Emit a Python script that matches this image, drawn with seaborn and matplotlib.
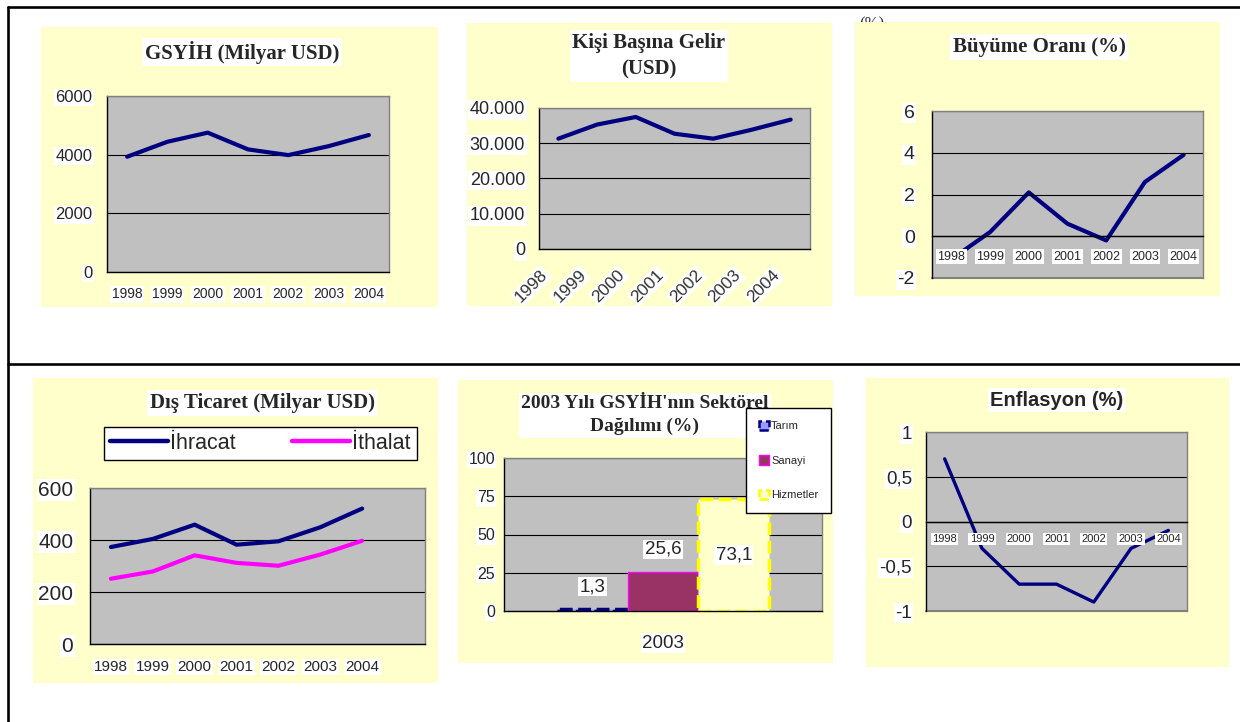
import numpy as np
import pandas as pd
import seaborn as sns
import matplotlib.pyplot as plt
from matplotlib.patches import Rectangle, Patch
from matplotlib.lines import Line2D
from matplotlib.ticker import FuncFormatter
from matplotlib.transforms import ScaledTranslation

# values
years = [1998, 1999, 2000, 2001, 2002, 2003, 2004]
year_labels = [str(y) for y in years]
gsyih = [3930, 4440, 4750, 4180, 3985, 4290, 4670]
kisi_basina = [31300, 35300, 37450, 32700, 31300, 33850, 36700]
buyume = [-1.1, 0.2, 2.1, 0.6, -0.2, 2.6, 3.9]
ihracat = [373, 404, 459, 382, 395, 449, 521]
ithalat = [251, 279, 341, 312, 301, 344, 397]
enflasyon = [0.7, -0.3, -0.7, -0.7, -0.9, -0.3, -0.1]
sektorler = ['Tarım', 'Sanayi', 'Hizmetler']
sektor_pay = [1.3, 25.6, 73.1]

NAVY = '#000080'
MAGENTA = '#FF00FF'
PANEL = '#FFFFCC'
PLOT_BG = '#C0C0C0'
W, H = 1240, 722

sns.set_style("white")
plt.rcParams['font.family'] = ['Liberation Sans', 'DejaVu Sans']
plt.rcParams['axes.unicode_minus'] = False

fig = plt.figure(figsize=(W / 100, H / 100), dpi=100)
fig.patch.set_facecolor('white')


def px_axes(x0, y0, x1, y1):
    return fig.add_axes([x0 / W, 1 - y1 / H, (x1 - x0) / W, (y1 - y0) / H])


def panel(x0, y0, x1, y1):
    fig.add_artist(Rectangle((x0 / W, 1 - y1 / H), (x1 - x0) / W, (y1 - y0) / H,
                             transform=fig.transFigure, facecolor=PANEL,
                             edgecolor='none', zorder=-1))


def title(text, x, y, size=15, serif=True):
    fam = ['Liberation Serif', 'DejaVu Serif'] if serif else ['Liberation Sans', 'DejaVu Sans']
    # below the axes so a legend can sit on top of it
    fig.text(x / W, 1 - y / H, text, ha='center', va='center', family=fam,
             weight='bold', fontsize=size, linespacing=1.4, zorder=-0.5,
             bbox=dict(facecolor='white', edgecolor='none', pad=2))


def frame(x0, y0, x1, y1):
    fig.add_artist(Line2D([x0 / W, x1 / W], [1 - y0 / H, 1 - y1 / H],
                          transform=fig.transFigure, color='black', lw=1.9, zorder=5))


def base_style(ax, ylim, step, fmt, ysize, ypad):
    ax.set_facecolor(PLOT_BG)
    for s in ['top', 'right']:
        ax.spines[s].set_color('#808080')
    for s in ['left', 'bottom']:
        ax.spines[s].set_color('black')
    for s in ax.spines.values():
        s.set_linewidth(1)
    ax.set_ylim(*ylim)
    ax.set_yticks(np.arange(ylim[0], ylim[1] + step / 2, step))
    ax.yaxis.set_major_formatter(FuncFormatter(fmt))
    ax.tick_params(axis='y', direction='out', length=3.5, width=1, color='black',
                   labelsize=ysize, pad=ypad)
    ax.yaxis.grid(True, color='black', lw=0.8)
    ax.xaxis.grid(False)
    ax.set_axisbelow(True)
    ax.set(xlabel='', ylabel='')


def year_axis(ax, n_slots, size, pad, rotation=0):
    ax.set_xlim(1997.5, 1997.5 + n_slots)
    ax.set_xticks(np.arange(1997.5, 1997.5 + n_slots + 0.1, 1))
    ax.set_xticklabels([])
    ax.set_xticks(years, minor=True)
    ax.set_xticklabels(year_labels, minor=True, rotation=rotation,
                       ha='right' if rotation else 'center')
    ax.tick_params(axis='x', which='major', direction='out', length=3.5, width=1,
                   color='black')
    ax.tick_params(axis='x', which='minor', length=0, pad=pad, labelsize=size)


def int_fmt(v, pos):
    return f"{int(round(v))}"


def dot_fmt(v, pos):
    return f"{int(round(v)):,}".replace(',', '.')


def comma_fmt(v, pos):
    return f"{v:g}".replace('.', ',')


# outer table frame
frame(8, 7, 1240, 7)
frame(8, 7, 8, 722)
frame(8, 364, 1240, 364)

# half-hidden text behind the growth panel
fig.text(872 / W, 1 - 24 / H, '(%)', ha='center', va='center', fontsize=12,
         family=['Liberation Serif'], color='#333333', zorder=-2)

# ---------- GSYİH ----------
panel(41, 27, 438, 307)
ax1 = px_axes(107, 96, 389, 272)
sns.lineplot(x=years, y=gsyih, ax=ax1, color=NAVY, lw=3)
base_style(ax1, (0, 6000), 2000, int_fmt, 12, 7)
year_axis(ax1, 7, 10, 11)
title('GSYİH (Milyar USD)', 242, 52)

# ---------- Kişi Başına Gelir ----------
panel(467, 23, 832, 306)
ax2 = px_axes(539, 108, 810, 249)
sns.lineplot(x=years, y=kisi_basina, ax=ax2, color=NAVY, lw=3)
base_style(ax2, (0, 40000), 10000, dot_fmt, 13, 6.5)
year_axis(ax2, 7, 12.5, 13, rotation=45)
shift = ScaledTranslation(-8 / 100, 0, fig.dpi_scale_trans)
for lab in ax2.get_xticklabels(minor=True):
    lab.set_transform(lab.get_transform() + shift)
    lab.set_color('#333333')
title('Kişi Başına Gelir\n(USD)', 649, 56)

# ---------- Büyüme Oranı ----------
panel(855, 22, 1220, 296)
ax3 = px_axes(932, 111, 1203, 278)
sns.lineplot(x=years, y=buyume, ax=ax3, color=NAVY, lw=3, zorder=0.3)
base_style(ax3, (-2, 6), 2, int_fmt, 14, 9)
year_axis(ax3, 7, 9, 10.5)
ax3.spines['bottom'].set_position(('data', 0))
ax3.plot([0, 1], [0, 0], transform=ax3.transAxes, color='#808080', lw=1.5, clip_on=False)
title('Büyüme Oranı (%)', 1039, 47)

# ---------- Dış Ticaret ----------
panel(33, 378, 438, 683)
ax4 = px_axes(90, 488, 425, 644)
ticaret = pd.DataFrame({
    'yil': years * 2,
    'deger': ihracat + ithalat,
    'seri': ['İhracat'] * len(years) + ['İthalat'] * len(years),
})
sns.lineplot(data=ticaret, x='yil', y='deger', hue='seri',
             palette={'İhracat': NAVY, 'İthalat': MAGENTA}, lw=3, ax=ax4)
base_style(ax4, (0, 600), 200, int_fmt, 15, 8.5)
year_axis(ax4, 8, 11, 11.5)
handles, labels = ax4.get_legend_handles_labels()
leg4 = ax4.legend(handles, labels, loc='center', bbox_to_anchor=(260.5 / W, 1 - 443.5 / H),
                  bbox_transform=fig.transFigure, ncol=2, fontsize=15.5, frameon=True,
                  fancybox=False, edgecolor='black', framealpha=1, handlelength=2.7,
                  handletextpad=0.1, columnspacing=2.6, borderpad=0.3)
leg4.get_frame().set_linewidth(1)
for ln in leg4.get_lines():
    ln.set_linewidth(3.2)
title('Dış Ticaret (Milyar USD)', 262, 403)

# ---------- Sektörel Dağılım ----------
panel(458, 380, 833, 663)
ax5 = px_axes(504, 458, 822, 611)
sektor_df = pd.DataFrame({'yil': ['2003'] * 3, 'sektor': sektorler, 'pay': sektor_pay})
fills = ['#9999FF', '#993366', '#FFFFCC']
edge_styles = [(NAVY, '--', 2.5), (MAGENTA, '-', 1), ('#FFFF00', '--', 2.5)]
sns.barplot(data=sektor_df, x='yil', y='pay', hue='sektor', hue_order=sektorler,
            palette=fills, width=0.667, saturation=1,
            errorbar=None, legend=False, ax=ax5)
base_style(ax5, (0, 100), 25, int_fmt, 11.5, 3)
ax5.set_xlim(-0.5, 0.5)
ax5.set_xticks([-0.5, 0.5])
ax5.set_xticklabels([])
ax5.set_xticks([0], minor=True)
ax5.set_xticklabels(['2003'], minor=True)
ax5.tick_params(axis='x', which='major', direction='out', length=3.5, width=1, color='black')
ax5.tick_params(axis='x', which='minor', length=0, pad=17, labelsize=13.5)
for cont, (ec, ls, lw) in zip(ax5.containers, edge_styles):
    for bar in cont:
        bar.set_edgecolor(ec)
        bar.set_linestyle(ls)
        bar.set_linewidth(lw)
bar_texts = []
for cont, val in zip(ax5.containers[:2], sektor_pay[:2]):
    bar_texts += ax5.bar_label(cont, labels=[f"{val:.1f}".replace('.', ',')],
                               padding=10, fontsize=13.5)
bar_texts += ax5.bar_label(ax5.containers[2], labels=[f"{sektor_pay[2]:.1f}".replace('.', ',')],
                           label_type='center', fontsize=13.5)
for t in bar_texts:
    t.set_bbox(dict(facecolor='white', edgecolor='none', pad=1))
leg_handles = [Patch(facecolor=fc, edgecolor=ec, linestyle=ls, linewidth=min(lw, 1.8))
               for fc, (ec, ls, lw) in zip(fills, edge_styles)]
leg5 = ax5.legend(leg_handles, sektorler, loc='center',
                  bbox_to_anchor=(788.5 / W, 1 - 460.5 / H), bbox_transform=fig.transFigure,
                  fontsize=8, frameon=True, fancybox=False, edgecolor='black', framealpha=1,
                  labelspacing=2.15, handlelength=0.9, handleheight=0.9,
                  handletextpad=0.2, borderpad=1.15)
leg5.get_frame().set_linewidth(1)
leg5.set_zorder(10)
title("2003 Yılı GSYİH'nın Sektörel\nDağılımı (%)", 645, 415, size=14)

# ---------- Enflasyon ----------
panel(866, 378, 1229, 667)
ax6 = px_axes(926, 432, 1187, 611)
sns.lineplot(x=years, y=enflasyon, ax=ax6, color=NAVY, lw=2.4, zorder=0.3)
base_style(ax6, (-1, 1), 0.5, comma_fmt, 13.5, 6.5)
year_axis(ax6, 7, 8, 9)
ax6.spines['bottom'].set_position(('data', 0))
ax6.plot([0, 1], [0, 0], transform=ax6.transAxes, color='#808080', lw=1.5, clip_on=False)
title('Enflasyon (%)', 1057, 400, size=14.5, serif=False)

# white boxes behind all tick labels
fig.canvas.draw()
for ax in [ax1, ax2, ax3, ax4, ax5, ax6]:
    for lab in ax.get_yticklabels() + ax.get_xticklabels(minor=True):
        lab.set_bbox(dict(facecolor='white', edgecolor='none', pad=1))

fig.savefig('out.png', dpi=100)
